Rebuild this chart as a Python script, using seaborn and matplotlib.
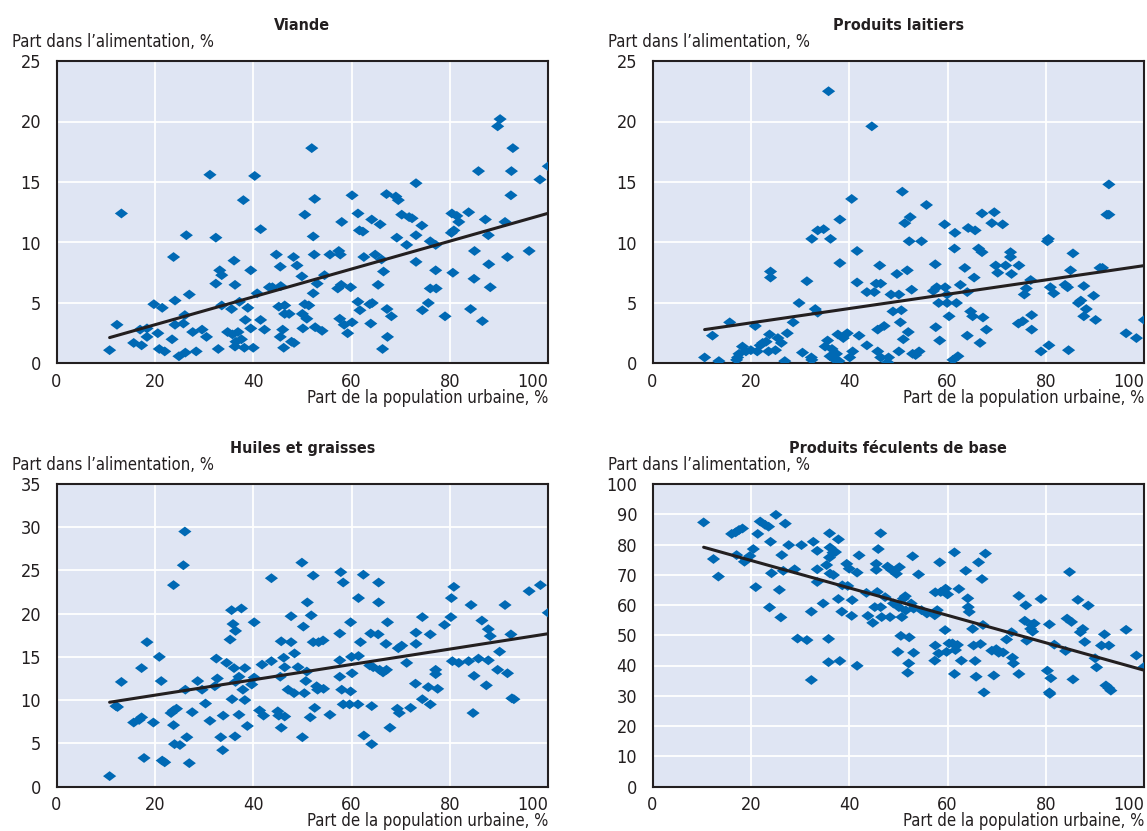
import matplotlib
matplotlib.use('Agg')
import matplotlib.pyplot as plt
from matplotlib.path import Path
import seaborn as sns

# Part de la population urbaine (%) / part dans l'alimentation (%)
viande_x = [10.8, 12.3, 13.2, 15.7, 17.0, 17.3, 18.4, 18.4, 19.8, 20.6,
            20.9, 21.5, 22.0, 23.5, 23.8, 24.1, 24.1, 24.9, 25.8, 26.1,
            26.2, 26.4, 27.0, 27.7, 28.4, 29.6, 30.5, 31.2, 32.4, 32.4,
            32.9, 33.2, 33.6, 33.6, 34.8, 35.6, 35.8, 36.1, 36.3, 36.3,
            36.5, 36.9, 37.2, 37.6, 38.0, 38.2, 38.4, 38.9, 39.5, 39.5,
            40.0, 40.3, 40.8, 41.5, 41.5, 42.3, 43.3, 43.9, 44.7, 45.2,
            45.5, 45.5, 45.6, 46.0, 46.4, 46.4, 46.2, 47.3, 47.8, 48.2,
            48.3, 48.9, 49.9, 50.0, 50.1, 50.5, 50.5, 50.9, 51.3, 51.9,
            52.2, 52.2, 52.4, 52.5, 52.6, 53.0, 54.0, 54.5, 55.6, 57.2,
            57.4, 57.6, 57.7, 58.0, 57.9, 58.5, 59.2, 59.8, 60.1, 60.1,
            61.3, 61.3, 61.6, 61.7, 62.3, 62.5, 63.7, 63.9, 64.1, 64.2,
            64.8, 65.4, 65.8, 66.1, 66.3, 66.5, 67.1, 67.2, 67.3, 68.1,
            69.0, 69.5, 69.2, 70.2, 71.2, 71.7, 72.3, 73.1, 73.1, 73.1,
            74.3, 74.4, 75.6, 76.0, 76.0, 77.1, 77.1, 77.2, 79.0, 80.3,
            80.4, 80.6, 80.8, 81.4, 81.8, 83.8, 84.2, 84.9, 85.0, 85.8,
            86.6, 87.2, 87.8, 87.9, 88.2, 89.7, 90.2, 91.2, 91.7, 92.4,
            92.5, 92.8, 96.1, 98.3, 100.0]
viande_y = [1.1, 3.2, 12.4, 1.7, 2.8, 1.5, 2.2, 2.9, 4.9, 2.5,
            1.2, 4.6, 1.0, 2.0, 8.8, 5.2, 3.2, 0.6, 3.3, 4.0,
            0.9, 10.6, 5.7, 2.6, 1.0, 2.8, 2.2, 15.6, 10.4, 6.6,
            1.2, 7.7, 7.3, 4.8, 2.6, 4.5, 2.4, 8.5, 6.5, 1.4,
            1.8, 2.6, 5.1, 2.0, 13.5, 1.3, 3.6, 4.6, 2.9, 7.7,
            1.3, 15.5, 5.8, 11.1, 3.6, 2.8, 6.3, 6.3, 9.0, 4.7,
            2.2, 8.0, 6.4, 2.8, 4.8, 4.1, 1.3, 4.1, 1.8, 8.8,
            1.7, 8.1, 7.2, 4.1, 2.9, 12.3, 4.9, 3.7, 4.8, 17.8,
            5.8, 10.5, 9.0, 13.6, 3.0, 6.6, 2.7, 7.3, 9.0, 6.2,
            9.3, 3.7, 9.0, 11.7, 6.5, 3.2, 2.5, 6.3, 13.9, 3.4,
            12.4, 5.1, 11.0, 4.4, 10.9, 8.8, 4.9, 3.3, 11.9, 5.0,
            9.0, 6.5, 11.5, 8.6, 1.2, 7.6, 14.0, 4.5, 2.2, 3.9,
            13.8, 13.5, 10.4, 12.3, 9.8, 12.1, 12.0, 14.9, 10.6, 8.4,
            11.4, 4.4, 5.0, 10.1, 6.2, 9.8, 7.7, 6.2, 3.9, 10.8,
            12.4, 7.5, 11.0, 12.2, 11.7, 12.5, 4.5, 7.0, 9.3, 15.9,
            3.5, 11.9, 10.6, 8.2, 6.3, 19.6, 20.2, 11.7, 8.8, 13.9,
            15.9, 17.8, 9.3, 15.2, 16.3]

laitiers_x = [10.6, 12.2, 13.5, 15.7, 17.1, 17.3, 17.6, 18.3, 19.0, 20.0,
              20.9, 21.3, 21.9, 22.4, 23.1, 23.6, 23.8, 24.0, 24.0, 25.0,
              25.5, 26.2, 26.9, 27.4, 28.6, 29.8, 30.5, 31.4, 32.3, 32.4,
              32.4, 33.1, 33.6, 33.6, 34.8, 35.1, 35.6, 35.8, 36.1, 36.2,
              36.5, 36.8, 37.4, 37.7, 37.9, 38.1, 38.1, 38.8, 39.6, 40.1,
              40.5, 40.7, 41.6, 41.6, 42.0, 43.6, 43.6, 44.6, 45.1, 45.5,
              45.8, 45.8, 46.2, 46.4, 46.4, 47.1, 47.8, 48.0, 48.5, 48.9,
              49.7, 50.1, 50.1, 50.4, 50.6, 50.8, 51.0, 51.3, 51.8, 52.0,
              52.2, 52.4, 52.7, 52.9, 53.5, 54.2, 54.7, 55.7, 57.1, 57.5,
              57.6, 57.8, 58.2, 58.4, 59.4, 59.5, 59.9, 60.3, 59.9, 61.1,
              61.4, 61.5, 61.8, 62.1, 62.6, 63.5, 64.0, 64.0, 64.2, 64.7,
              65.1, 65.4, 65.6, 66.3, 66.6, 67.0, 67.0, 67.2, 67.9, 69.0,
              69.5, 69.8, 70.2, 71.2, 71.8, 72.8, 72.8, 73.0, 74.4, 74.5,
              75.3, 75.6, 76.0, 76.9, 77.1, 77.1, 79.0, 80.3, 80.5, 80.6,
              80.9, 81.6, 83.9, 84.4, 84.6, 85.0, 85.5, 86.6, 87.1, 87.7,
              87.7, 88.2, 89.7, 90.1, 91.0, 91.5, 92.4, 92.8, 92.8, 96.3,
              98.4, 100.0]
laitiers_y = [0.5, 2.3, 0.2, 3.4, 0.3, 0.5, 0.8, 1.4, 1.0, 1.1,
              3.1, 1.0, 1.5, 1.7, 1.8, 1.0, 2.4, 7.6, 7.1, 1.1,
              2.1, 1.7, 0.2, 2.5, 3.4, 5.0, 0.9, 6.8, 0.5, 0.3,
              10.3, 4.5, 4.2, 11.0, 11.1, 1.4, 1.9, 22.5, 0.6, 10.3,
              1.2, 0.4, 0.8, 2.4, 0.2, 11.9, 8.3, 2.1, 2.5, 0.5,
              13.6, 1.0, 9.3, 6.7, 2.3, 1.5, 5.9, 19.6, 5.9, 6.6,
              1.0, 2.8, 8.1, 6.6, 0.5, 3.1, 0.1, 0.5, 5.7, 4.3,
              7.4, 1.0, 5.7, 3.4, 4.4, 14.2, 2.0, 11.6, 7.7, 2.6,
              10.1, 12.1, 6.1, 0.8, 0.7, 1.0, 10.1, 13.1, 6.0, 8.2,
              3.0, 6.3, 5.0, 1.9, 11.5, 6.3, 5.7, 3.9, 5.0, 0.3,
              9.5, 10.8, 5.0, 0.6, 6.5, 7.9, 2.3, 5.9, 11.2, 4.3,
              3.9, 7.1, 11.0, 9.5, 1.7, 9.2, 12.4, 3.8, 2.8, 11.6,
              12.5, 8.1, 7.5, 11.5, 8.1, 9.2, 8.8, 7.4, 3.3, 8.1,
              3.5, 5.7, 6.2, 6.9, 4.0, 2.8, 1.0, 10.1, 10.3, 1.5,
              6.3, 5.8, 6.5, 6.3, 1.1, 7.7, 9.1, 5.0, 5.2, 6.4,
              3.9, 4.5, 5.6, 3.6, 7.9, 7.9, 12.3, 12.3, 14.8, 2.5,
              2.1, 3.6]

huiles_x = [10.8, 12.1, 12.4, 13.2, 15.7, 16.8, 17.3, 17.3, 17.8, 18.4,
            19.7, 20.9, 21.3, 21.5, 22.0, 23.3, 23.8, 23.8, 23.8, 24.0,
            24.4, 25.1, 25.8, 26.1, 26.2, 26.5, 27.0, 27.6, 28.7, 29.6,
            30.3, 31.2, 32.2, 32.5, 32.7, 33.4, 33.8, 33.9, 34.6, 35.3,
            35.6, 35.7, 35.9, 36.1, 36.3, 36.4, 36.4, 37.1, 37.1, 37.6,
            37.9, 38.3, 38.3, 38.8, 39.7, 40.2, 40.2, 41.3, 41.8, 42.1,
            43.7, 43.7, 45.0, 45.2, 45.5, 45.7, 45.7, 46.2, 46.4, 46.4,
            47.1, 47.7, 47.7, 48.3, 48.4, 49.1, 49.9, 50.0, 50.2, 50.4,
            50.7, 50.9, 51.0, 51.6, 51.8, 52.2, 52.2, 52.5, 52.9, 53.1,
            53.3, 54.2, 54.3, 55.6, 57.6, 57.6, 57.6, 57.8, 58.0, 58.3,
            58.3, 59.6, 59.8, 59.8, 60.0, 60.1, 61.3, 61.4, 61.4, 61.8,
            62.4, 62.5, 63.7, 63.9, 64.1, 64.1, 64.4, 65.4, 65.5, 65.5,
            65.7, 66.4, 67.1, 67.0, 67.3, 67.8, 69.3, 69.5, 69.7, 70.2,
            71.2, 72.0, 73.0, 73.1, 73.1, 74.4, 74.4, 75.6, 76.0, 76.0,
            77.1, 77.1, 77.5, 78.9, 80.2, 80.3, 80.5, 80.8, 81.8, 83.8,
            84.3, 84.7, 84.9, 85.8, 86.5, 87.4, 87.8, 87.8, 88.2, 89.7,
            90.1, 91.2, 91.7, 92.4, 92.6, 93.0, 96.1, 98.4, 100.0]
huiles_y = [1.2, 9.3, 9.2, 12.1, 7.4, 7.7, 8.0, 13.7, 3.3, 16.7,
            7.4, 15.0, 12.2, 3.0, 2.8, 8.5, 23.3, 7.1, 8.8, 4.9,
            9.0, 4.8, 25.6, 29.5, 11.2, 5.7, 2.7, 8.6, 12.2, 11.2,
            9.6, 7.6, 11.6, 14.8, 12.5, 5.7, 4.2, 8.2, 14.3, 17.0,
            20.4, 10.1, 18.8, 13.7, 5.8, 18.0, 12.1, 12.7, 8.3, 20.6,
            11.2, 13.7, 10.0, 7.0, 11.8, 12.6, 19.0, 8.8, 14.1, 8.2,
            24.1, 14.5, 8.7, 8.2, 12.7, 6.8, 16.8, 14.9, 13.8, 8.1,
            11.2, 19.7, 16.7, 10.8, 15.4, 13.8, 25.9, 5.7, 18.5, 10.8,
            12.2, 13.3, 21.3, 8.0, 19.8, 24.4, 16.7, 9.1, 11.6, 11.2,
            16.7, 16.9, 11.3, 8.3, 14.6, 17.7, 12.7, 24.8, 11.2, 23.6,
            9.5, 9.5, 11.0, 19.0, 15.0, 13.1, 9.5, 15.1, 21.8, 16.7,
            24.5, 5.9, 14.0, 17.7, 4.9, 9.3, 13.8, 17.6, 23.6, 21.3,
            13.5, 13.2, 13.5, 16.5, 19.0, 6.8, 9.0, 16.0, 8.5, 16.3,
            14.3, 9.1, 11.9, 17.8, 16.5, 19.6, 10.1, 11.5, 17.6, 9.5,
            13.5, 13.0, 11.3, 18.7, 19.6, 21.8, 14.5, 23.1, 14.3, 14.5,
            21.0, 8.5, 12.8, 14.8, 19.2, 11.7, 14.6, 18.2, 17.4, 13.5,
            15.6, 21.0, 13.1, 17.6, 10.2, 10.1, 22.6, 23.3, 20.1]

feculents_x = [10.4, 12.4, 13.4, 16.1, 16.9, 17.1, 17.6, 18.3, 18.7, 19.1,
               19.8, 20.5, 21.0, 21.4, 21.9, 22.9, 23.6, 23.8, 24.0, 24.2,
               25.1, 25.8, 26.1, 26.3, 26.6, 27.0, 27.7, 28.9, 29.5, 30.3,
               31.4, 32.3, 32.3, 32.7, 33.5, 33.5, 33.5, 34.7, 35.4, 35.8,
               35.8, 36.0, 36.1, 36.0, 36.1, 36.7, 36.8, 37.2, 37.8, 37.8,
               38.1, 38.5, 38.6, 39.5, 39.7, 40.0, 40.5, 40.6, 41.6, 41.6,
               42.0, 43.5, 43.8, 44.8, 45.2, 45.5, 45.5, 45.7, 45.9, 46.4,
               46.4, 46.6, 47.3, 47.8, 48.3, 48.6, 49.0, 49.6, 49.9, 50.1,
               50.2, 50.5, 50.7, 51.0, 51.4, 51.5, 51.9, 52.1, 52.2, 52.6,
               52.9, 53.1, 53.1, 54.1, 54.7, 55.8, 57.4, 57.4, 57.5, 57.5,
               57.9, 58.2, 58.4, 58.6, 59.5, 59.6, 59.8, 60.0, 60.3, 61.0,
               61.4, 61.4, 61.6, 62.0, 62.3, 62.8, 63.7, 64.1, 64.2, 64.4,
               65.1, 65.3, 65.6, 65.8, 66.3, 66.7, 67.0, 67.2, 67.4, 67.7,
               69.0, 69.4, 69.9, 70.4, 71.3, 72.0, 73.0, 73.2, 73.4, 74.5,
               74.5, 75.7, 75.9, 76.1, 76.9, 77.1, 77.3, 77.6, 79.0, 80.3,
               80.7, 80.7, 80.8, 81.0, 81.7, 84.0, 84.3, 84.8, 85.2, 85.5,
               86.5, 87.0, 87.5, 87.9, 88.6, 90.0, 90.3, 91.3, 91.9, 92.2,
               92.8, 93.2, 92.8, 96.3, 98.4, 100.0]
feculents_y = [87.3, 75.2, 69.4, 83.5, 84.0, 76.5, 84.8, 85.3, 74.3, 75.1,
               76.2, 78.5, 65.9, 83.5, 87.6, 86.5, 85.9, 59.2, 80.9, 70.5,
               89.8, 65.0, 55.9, 76.5, 71.3, 86.9, 79.8, 71.8, 48.9, 79.8,
               48.4, 57.8, 35.2, 80.9, 77.9, 67.6, 71.8, 60.5, 73.2, 48.8,
               41.1, 83.7, 79.0, 75.7, 70.4, 77.3, 69.9, 77.5, 81.7, 62.0,
               41.5, 57.8, 66.5, 73.6, 66.3, 72.0, 56.4, 61.6, 70.7, 39.9,
               76.4, 64.0, 56.4, 54.1, 59.3, 73.6, 71.6, 64.3, 78.5, 83.7,
               59.3, 56.0, 62.6, 72.7, 56.0, 71.6, 60.5, 70.3, 44.5, 59.3,
               72.5, 49.8, 56.0, 62.1, 62.9, 58.2, 37.6, 40.7, 49.3, 60.5,
               76.1, 58.8, 44.2, 70.1, 58.3, 57.2, 56.6, 41.6, 46.6, 64.2,
               58.3, 44.0, 74.1, 64.3, 51.7, 65.4, 44.5, 63.5, 47.3, 47.3,
               77.4, 37.2, 45.1, 46.8, 65.3, 41.6, 71.3, 62.2, 59.3, 57.7,
               52.1, 46.6, 41.5, 36.3, 74.1, 47.1, 68.6, 53.4, 31.1, 77.0,
               44.9, 36.7, 45.4, 44.2, 44.3, 48.6, 51.0, 42.6, 40.7, 37.2,
               63.0, 54.8, 59.9, 48.2, 52.1, 53.4, 51.2, 53.9, 62.0, 38.3,
               53.6, 31.1, 30.6, 35.8, 46.9, 44.8, 55.5, 70.9, 54.4, 35.4,
               61.7, 51.0, 52.1, 47.8, 59.8, 42.4, 39.4, 46.6, 50.3, 33.4,
               32.5, 31.7, 46.6, 51.8, 43.3, 39.6]

titles = ['Viande', 'Produits laitiers', 'Huiles et graisses', 'Produits féculents de base']
x_ticks = [0, 20, 40, 60, 80, 100]
y_ticks = [list(range(0, 26, 5)), list(range(0, 26, 5)),
           list(range(0, 36, 5)), list(range(0, 101, 10))]
y_label = 'Part dans l’alimentation, %'
x_label = 'Part de la population urbaine, %'

BLUE = '#0069b4'
BG = '#dfe5f3'
DARK = '#231f20'

sns.set_style('white')
# condensed face, close to the narrow sans used in the original
plt.rcParams['font.family'] = ['Liberation Sans Narrow', 'DejaVu Sans']
plt.rcParams['font.stretch'] = 'condensed'
plt.rcParams['text.color'] = DARK

# flattened diamond, a bit wider than tall
diamond = Path([(-1, 0), (0, 0.75), (1, 0), (0, -0.75), (-1, 0)],
               [Path.MOVETO, Path.LINETO, Path.LINETO, Path.LINETO, Path.CLOSEPOLY])

fig = plt.figure(figsize=(11.47, 8.31), dpi=100)
W, H = 1147, 831
boxes = [(56.5, 61), (652.5, 61), (56.5, 484), (652.5, 484)]
aw, ah = 491.8, 302.5

panels = [(viande_x, viande_y), (laitiers_x, laitiers_y),
          (huiles_x, huiles_y), (feculents_x, feculents_y)]

for (px, py), (xs, ys), title, yt in zip(boxes, panels, titles, y_ticks):
    ax = fig.add_axes([px / W, 1 - (py + ah) / H, aw / W, ah / H])
    ax.set_facecolor(BG)
    sns.scatterplot(x=xs, y=ys, ax=ax, marker=diamond, s=90, color=BLUE,
                    edgecolor='none', linewidth=0, zorder=3)
    sns.regplot(x=xs, y=ys, ax=ax, scatter=False, ci=None, truncate=True,
                color=DARK, line_kws={'lw': 2.2, 'zorder': 4})
    ax.set_xlim(0, 100)
    ax.set_ylim(yt[0], yt[-1])
    ax.set_xticks(x_ticks)
    ax.set_yticks(yt)
    ax.grid(True, color='white', lw=1.3)
    ax.set_axisbelow(True)
    ax.tick_params(axis='both', direction='in', length=5, width=1.2,
                   color='#555555', labelsize=13, labelcolor=DARK)
    ax.tick_params(axis='y', pad=11)
    ax.tick_params(axis='x', pad=7)
    ax.get_xticklabels()[-1].set_horizontalalignment('right')
    ax.set_xlabel('')
    ax.set_ylabel('')
    for sp in ax.spines.values():
        sp.set_visible(True)
        sp.set_color(DARK)
        sp.set_linewidth(1.5)
    ax.annotate(title, xy=(0.5, 1), xycoords='axes fraction', xytext=(0, 36),
                textcoords='offset pixels', ha='center', va='center',
                fontsize=11.5, fontweight='bold')
    ax.annotate(y_label, xy=(0, 1), xycoords='axes fraction', xytext=(-44.5, 19),
                textcoords='offset pixels', ha='left', va='center', fontsize=12)
    ax.annotate(x_label, xy=(1, 0), xycoords='axes fraction', xytext=(0, -35),
                textcoords='offset pixels', ha='right', va='center', fontsize=12)

fig.savefig('out.png', dpi=100)
